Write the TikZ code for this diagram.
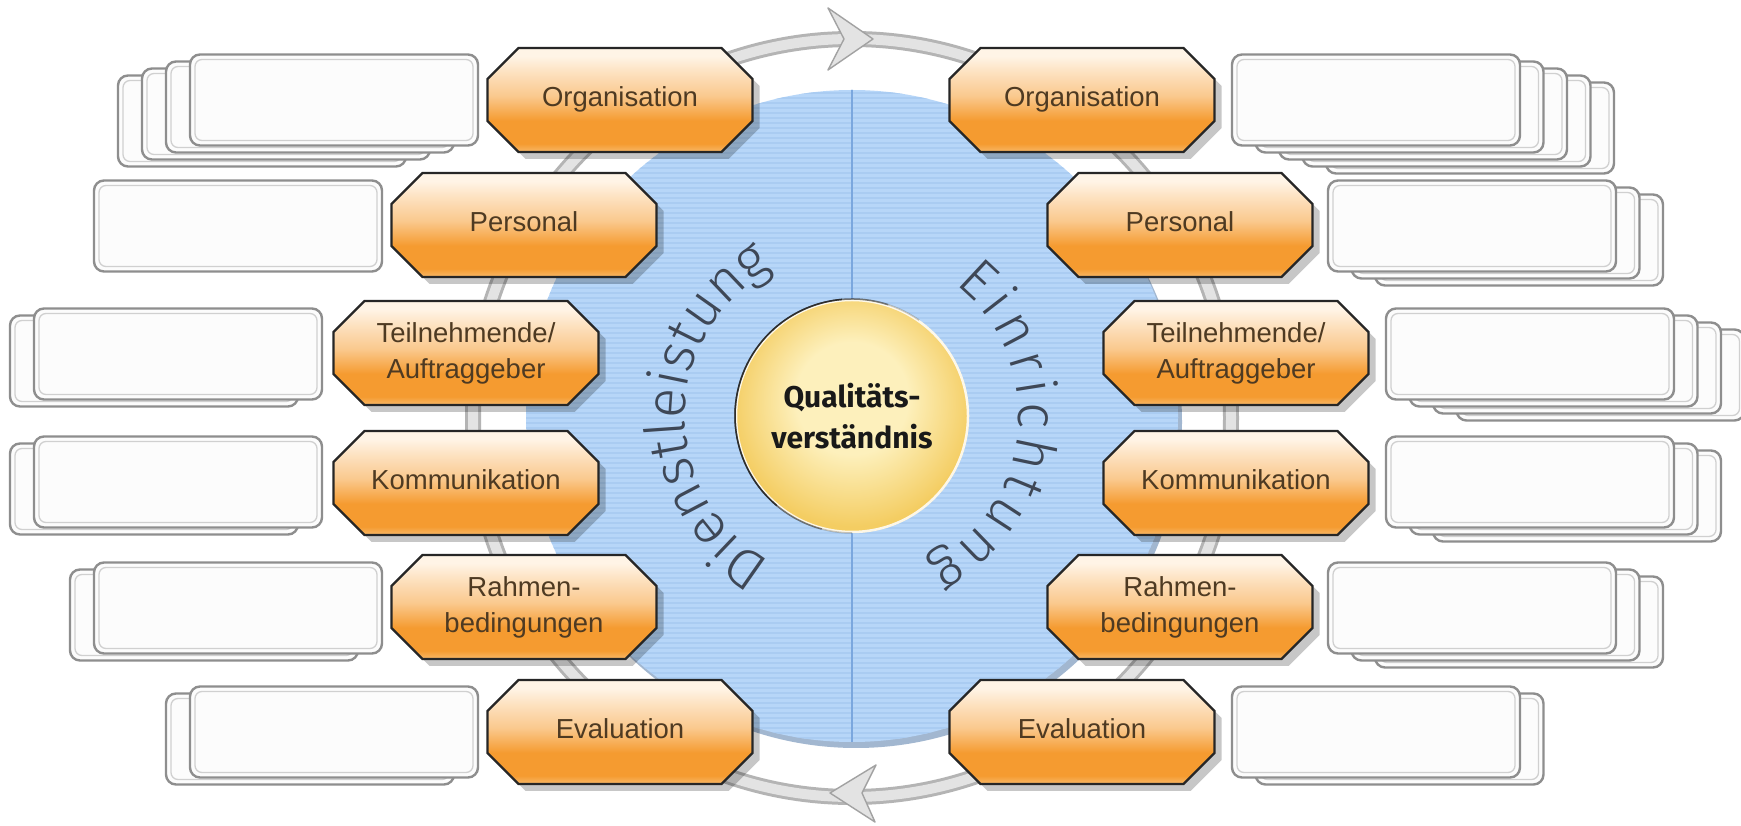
\documentclass[tikz,border=0pt]{standalone}
\usepackage{fontspec}
\setmainfont{Liberation Sans}
\newfontfamily\qfont{Fira Sans}
\IfFontExistsTF{Fira Sans Book}{\newfontfamily\arcfont{Fira Sans Book}}{%
  \IfFontExistsTF{Fira Sans Light}{\newfontfamily\arcfont{Fira Sans Light}}{\newfontfamily\arcfont{Fira Sans}}}
\usetikzlibrary{decorations.text,calc}

\definecolor{ringdark}{HTML}{B4B4B4}
\definecolor{ringlight}{HTML}{E3E3E3}
\definecolor{blueA}{HTML}{B7D6F8}
\definecolor{blueS}{HTML}{AACCF2}
\definecolor{blueLine}{HTML}{7BA7DE}
\definecolor{blueShadow}{HTML}{A2B7D0}
\definecolor{orTop}{HTML}{FFF4E6}
\definecolor{orMid}{HTML}{FAC98E}
\definecolor{orDeep}{HTML}{F59B30}
\definecolor{orBot}{HTML}{F8B868}
\definecolor{octText}{HTML}{4E3A22}
\definecolor{boxLine}{HTML}{8E8E8E}
\definecolor{boxInner}{HTML}{D0D0D0}
\definecolor{boxFill}{HTML}{FCFCFC}
\definecolor{yelIn}{HTML}{FDF0BC}
\definecolor{yelOut}{HTML}{F4CD62}
\definecolor{arcText}{HTML}{3E4756}

\pgfdeclareverticalshading{octshade}{100bp}{color(0bp)=(orBot); color(25bp)=(orBot); color(29bp)=(orDeep); color(40bp)=(orDeep); color(52bp)=(orMid); color(64bp)=(orTop!60!orMid); color(71bp)=(orTop); color(100bp)=(orTop)}
\pgfdeclareradialshading{yelshade}{\pgfpoint{0bp}{5bp}}{color(0bp)=(yelIn); color(12bp)=(yelIn); color(26bp)=(yelOut); color(50bp)=(yelOut)}

\tikzset{
  ring/.style={draw=ringdark, line width=16pt},
  ringin/.style={draw=ringlight, line width=10pt},
  arrowhd/.style={fill=ringlight, draw=ringdark!90!black, line width=1.4pt, line join=round},
  octbody/.style={shading=octshade, draw=black!85, line width=2.2pt, line join=miter},
  octshadow/.style={fill=black, opacity=0.22},
  octlabel/.style={font=\fontsize{27.5}{36}\selectfont, text=octText, align=center, inner sep=0pt},
  oct1/.style={octlabel, text height=20pt, text depth=6pt},
  oct2/.style={octlabel},
  wbox/.style={draw=boxLine, line width=2.4pt, fill=boxFill, rounded corners=10pt, minimum width=288pt, minimum height=91pt, inner sep=0pt},
  wboxin/.style={draw=boxInner, line width=1.3pt, rounded corners=7pt, minimum width=278pt, minimum height=81pt, inner sep=0pt},
  stripe/.style={draw=blueS, line width=1.2pt},
  midline/.style={draw=blueLine, line width=2pt},
  qtext/.style={font=\qfont\bfseries\fontsize{30}{41}\selectfont, text=black!90, align=center, inner sep=0pt},
  rimdark/.style={draw=black!85, line width=1.5pt},
}

\newcommand\octpath{(-132.5,21) -- (-101.5,52) -- (101.5,52) -- (132.5,21) -- (132.5,-21) -- (101.5,-52) -- (-101.5,-52) -- (-132.5,-21) -- cycle}
\newcommand\octnode[5]{%
  \begin{scope}[shift={(#2,#3)}]
    \fill[octshadow, shift={(7,-7)}] \octpath;
    \shadedraw[octbody] \octpath;
  \end{scope}
  \node[#4] (#1) at (#2,#3) {#5};}
\newcommand\stackboxes[5]{%
  \pgfmathtruncatemacro\lastk{#4-1}%
  \foreach \k in {\lastk,...,0}{%
    \node[wbox] (#1-\k) at ({#2+(#5)*\k},{#3-7*\k}) {};
    \node[wboxin] (#1-\k-in) at (#1-\k) {};
  }}

\begin{document}
\begin{tikzpicture}[x=1pt,y=1pt]
\fill[white] (0,0) rectangle (1741,825);
\path[use as bounding box] (0,0) rectangle (1741,825);
\coordinate (C) at (852,409);
\coordinate (R) at (852,407);

% cycle ring
\draw[ring] (R) circle[radius=379];
\draw[ringin] (R) circle[radius=379];
\coordinate (topTip) at (873,786);
\coordinate (topUp) at (828,817);
\coordinate (topNotch) at (844,786);
\coordinate (topLow) at (828,755);
\filldraw[arrowhd] (topTip) -- (topUp) -- (topNotch) -- (topLow) -- cycle;
\coordinate (botTip) at (830,32);
\coordinate (botUp) at (876,60);
\coordinate (botNotch) at (862,32);
\coordinate (botLow) at (875,3);
\filldraw[arrowhd] (botTip) -- (botUp) -- (botNotch) -- (botLow) -- cycle;

% blue disc
\fill[blueShadow] ($(C)+(4,-6)$) circle[radius=326];
\fill[blueA] (C) circle[radius=326];
\begin{scope}
  \clip (C) circle[radius=326];
  \foreach \k in {0,...,132} \draw[stripe] (520,{82+5*\k}) -- (1185,{82+5*\k});
  \draw[midline] (852,60) -- (852,760);
\end{scope}

% centre circle
\shade[shading=yelshade] (C) circle[radius=117];
\draw[white, line width=2.5pt, opacity=.85] (C) circle[radius=116];
\draw[rimdark, opacity=.25] ($(C)+(55:117)$) arc[start angle=55, end angle=270, radius=117];
\draw[rimdark, opacity=.5] ($(C)+(72:117)$) arc[start angle=72, end angle=255, radius=117];
\draw[rimdark, opacity=.9] ($(C)+(95:117)$) arc[start angle=95, end angle=230, radius=117];
\node[qtext] (Q) at (852,409) {Qualitäts-\\verständnis};

% curved texts
\path[decorate, decoration={text along path, text={|\arcfont\fontsize{56}{56}\selectfont|Dienstleistung}, text align={fit to path}, text color=arcText}]
  ($(C)+(241:167)$) arc[start angle=241, end angle=120, radius=167];
\path[decorate, decoration={text along path, text={|\arcfont\fontsize{56}{56}\selectfont|Einrichtung}, text align={fit to path}, text color=arcText}]
  ($(C)+(52:167)$) arc[start angle=52, end angle=-63, radius=167];

% white box stacks
\stackboxes{L1}{334}{725}{4}{-24}
\stackboxes{L2}{238}{599}{1}{-24}
\stackboxes{L3}{178}{471}{2}{-24}
\stackboxes{L4}{178}{343}{2}{-24}
\stackboxes{L5}{238}{217}{2}{-24}
\stackboxes{L6}{334}{93}{2}{-24}
\stackboxes{R1}{1376}{725}{5}{23.5}
\stackboxes{R2}{1472}{599}{3}{23.5}
\stackboxes{R3}{1530}{471}{4}{23.5}
\stackboxes{R4}{1530}{343}{3}{23.5}
\stackboxes{R5}{1472}{217}{3}{23.5}
\stackboxes{R6}{1376}{93}{2}{23.5}

% octagons left
\octnode{lo1}{620}{725}{oct1}{Organisation}
\octnode{lo2}{524}{600}{oct1}{Personal}
\octnode{lo3}{466}{472}{oct2}{Teilnehmende/\\Auftraggeber}
\octnode{lo4}{466}{342}{oct1}{Kommunikation}
\octnode{lo5}{524}{218}{oct2}{Rahmen-\\bedingungen}
\octnode{lo6}{620}{93}{oct1}{Evaluation}
% octagons right
\octnode{ro1}{1082}{725}{oct1}{Organisation}
\octnode{ro2}{1180}{600}{oct1}{Personal}
\octnode{ro3}{1236}{472}{oct2}{Teilnehmende/\\Auftraggeber}
\octnode{ro4}{1236}{342}{oct1}{Kommunikation}
\octnode{ro5}{1180}{218}{oct2}{Rahmen-\\bedingungen}
\octnode{ro6}{1082}{93}{oct1}{Evaluation}
\end{tikzpicture}
\end{document}
